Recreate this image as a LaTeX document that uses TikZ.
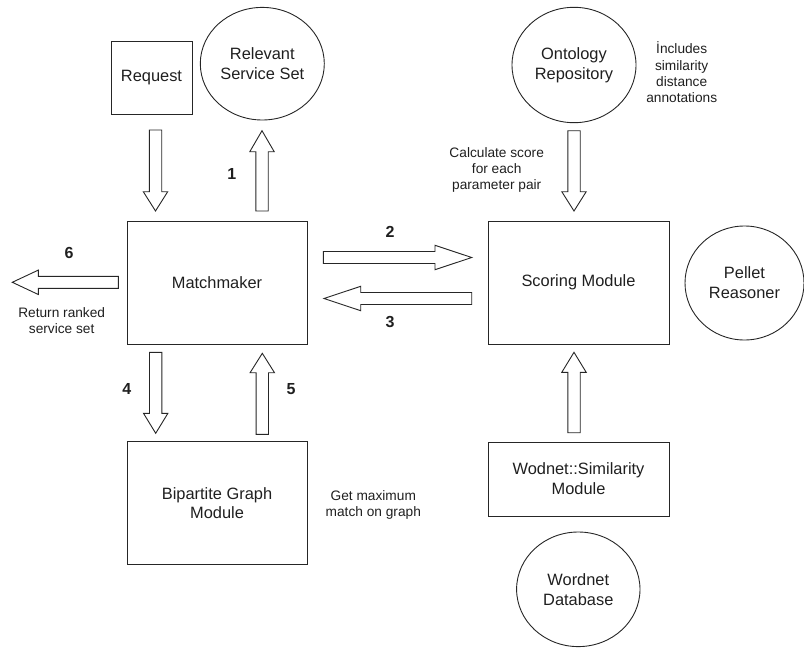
\documentclass[tikz,border=0pt]{standalone}
\usepackage{fontspec}
\setmainfont{Liberation Sans}
\usetikzlibrary{shapes.geometric}

% vertical block arrow: x centre, tail y, head base y, tip y
\newcommand{\vblock}[4]{%
  \draw[blockarrow] ({#1-6.2},#2) -- ({#1+6.2},#2) -- ({#1+6.2},#3) -- ({#1+12.2},#3)
    -- (#1,#4) -- ({#1-12.2},#3) -- ({#1-6.2},#3) -- cycle;}
% horizontal block arrow: y centre, tail x, head base x, tip x
\newcommand{\hblock}[4]{%
  \draw[blockarrow] (#2,{#1-6}) -- (#3,{#1-6}) -- (#3,{#1-12.2}) -- (#4,#1)
    -- (#3,{#1+12.2}) -- (#3,{#1+6}) -- (#2,{#1+6}) -- cycle;}

\begin{document}
\begin{tikzpicture}[x=1pt,y=-1pt,
  every node/.style={text=black!88},
  mainfont/.style={font=\fontsize{16.4}{19.8}\selectfont},
  notefont/.style={font=\fontsize{13.7}{16.4}\selectfont, align=center},
  stepnum/.style={font=\fontsize{16}{19}\selectfont\bfseries},
  box/.style={draw=black!85, line width=0.9pt, rectangle, inner sep=0pt,
    mainfont, align=center},
  bubble/.style={draw=black!85, line width=0.9pt, ellipse, inner sep=0pt,
    mainfont, align=center},
  blockarrow/.style={draw=black!85, line width=0.9pt, fill=white, line join=miter}]

\useasboundingbox (0,0) rectangle (804,648);

% components
\node[box, minimum width=81pt, minimum height=73pt] (request) at (151.5,77.5) {Request};
\node[bubble, minimum width=124pt, minimum height=112.6pt] (relevant) at (262.3,63.7) {Relevant\\Service Set};
\node[box, minimum width=180pt, minimum height=123pt] (matchmaker) at (217,282.5) {Matchmaker};
\node[box, minimum width=180pt, minimum height=123pt] (bipartite) at (217,503.2) {Bipartite Graph\\Module};
\node[box, minimum width=181pt, minimum height=123pt] (scoring) at (578.5,282.5) {Scoring Module};
\node[box, minimum width=181pt, minimum height=74pt] (wodnet) at (578.5,479) {Wodnet::Similarity\\Module};
\node[bubble, minimum width=124pt, minimum height=115.4pt] (ontology) at (574,65) {Ontology\\Repository};
\node[bubble, minimum width=119pt, minimum height=114pt] (pellet) at (744.5,283) {Pellet\\Reasoner};
\node[bubble, minimum width=123.4pt, minimum height=114.6pt] (wordnet) at (578.3,589.3) {Wordnet\\Database};

% flow arrows
\vblock{155.5}{130}{191.7}{211}       % request -> matchmaker
\vblock{262}{211}{151.7}{130.7}       % 1: matchmaker -> relevant set
\hblock{257.5}{323.3}{435}{471.7}     % 2: matchmaker -> scoring
\hblock{298.5}{471.7}{360.7}{324}     % 3: scoring -> matchmaker
\vblock{155.7}{352.3}{413.3}{433.3}   % 4: matchmaker -> bipartite
\vblock{262.3}{434.3}{372.7}{353.3}   % 5: bipartite -> matchmaker
\hblock{282.3}{118.3}{38.3}{12.3}     % 6: ranked result out
\vblock{574}{130.7}{191.7}{211}       % ontology -> scoring
\vblock{574}{432.7}{372.3}{352.3}     % wodnet -> scoring

% step numbers
\node[stepnum] (n1) at (231.7,174) {1};
\node[stepnum] (n2) at (390,232.3) {2};
\node[stepnum] (n3) at (390,322.3) {3};
\node[stepnum] (n4) at (126.7,389) {4};
\node[stepnum] (n5) at (291,389) {5};
\node[stepnum] (n6) at (69,253.3) {6};

% notes
\node[notefont] (retnote) at (61.7,320.5) {Return ranked\\service set};
\node[notefont] (matchnote) at (373.3,505) {Get maximum\\match on graph};
\node[notefont] (calcnote) at (496.7,170) {Calculate score\\for each\\parameter pair};
\node[notefont] (incnote) at (681.7,72.5) {İncludes\\similarity\\distance\\annotations};

\end{tikzpicture}
\end{document}
